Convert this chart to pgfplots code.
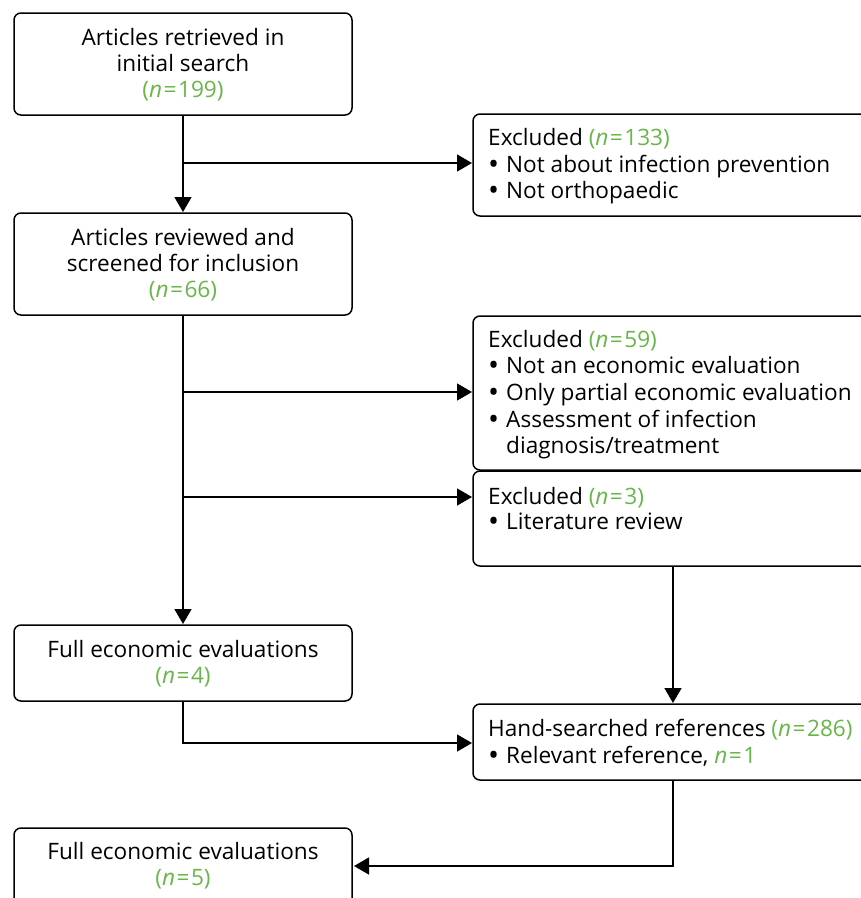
\documentclass[border=0pt]{standalone}
\usepackage{pgfplots}
\pgfplotsset{compat=1.18}
\usepackage{fontspec}
\setmainfont{Open Sans}
\usetikzlibrary{arrows.meta}
\definecolor{ngreen}{RGB}{104,182,72}
\newcommand{\nval}[1]{\textcolor{ngreen}{(\textit{n}\kern1.5pt=\kern1.5pt#1)}}
\newcommand{\nin}[1]{\textcolor{ngreen}{\textit{n}\kern1.5pt=\kern1.5pt#1}}
\newcommand{\bul}{\makebox[18pt][l]{\smash{\raisebox{-0.11em}{\scalebox{1.3}{\textbullet}}}}}

\begin{document}
\begin{tikzpicture}[
    box/.style={line width=1.5pt, rounded corners=7pt},
    link/.style={line width=1.5pt, black, -{Triangle[length=15pt,width=17pt]}},
    lbl/.style={font=\fontsize{22.6}{25}\selectfont, inner sep=0pt},
]
\begin{axis}[
    name=ax,
    width=861pt, height=898pt, scale only axis,
    xmin=0, xmax=861, ymin=0, ymax=898,
    y dir=reverse, hide axis, clip=false,
]
% connectors
\addplot[link] coordinates {(183,115)(183,212)};
\addplot[link] coordinates {(183,163)(472,163)};
\addplot[link] coordinates {(183,315)(183,624)};
\addplot[link] coordinates {(183,392)(472,392)};
\addplot[link] coordinates {(183,497)(472,497)};
\addplot[link] coordinates {(673,566)(673,703)};
\addplot[link, sharp plot] coordinates {(183,701)(183,743)(472,743)};
\addplot[link, sharp plot] coordinates {(673,780)(673,866)(354,866)};

% left column boxes
\draw[box] (axis cs:14,13) rectangle (axis cs:352,115);
\node[lbl, anchor=base] at (axis cs:183,45) {Articles retrieved in};
\node[lbl, anchor=base] at (axis cs:183,71) {initial search};
\node[lbl, anchor=base] at (axis cs:183,97) {\nval{199}};

\draw[box] (axis cs:14,213) rectangle (axis cs:352,315);
\node[lbl, anchor=base] at (axis cs:183,245) {Articles reviewed and};
\node[lbl, anchor=base] at (axis cs:183,271) {screened for inclusion};
\node[lbl, anchor=base] at (axis cs:183,297) {\nval{66}};

\draw[box] (axis cs:14,625) rectangle (axis cs:352,701);
\node[lbl, anchor=base] at (axis cs:183,657) {Full economic evaluations};
\node[lbl, anchor=base] at (axis cs:183,683) {\nval{4}};

\draw[box] (axis cs:14,828) rectangle (axis cs:352,930);
\node[lbl, anchor=base] at (axis cs:183,859) {Full economic evaluations};
\node[lbl, anchor=base] at (axis cs:183,885) {\nval{5}};

% right column boxes
\draw[box] (axis cs:473,114) rectangle (axis cs:880,216);
\node[lbl, anchor=base west] at (axis cs:488,145) {Excluded \nval{133}};
\node[lbl, anchor=base west] at (axis cs:488,172) {\bul Not about infection prevention};
\node[lbl, anchor=base west] at (axis cs:488,198) {\bul Not orthopaedic};

\draw[box] (axis cs:473,316) rectangle (axis cs:880,470);
\node[lbl, anchor=base west] at (axis cs:488,347) {Excluded \nval{59}};
\node[lbl, anchor=base west] at (axis cs:488,373) {\bul Not an economic evaluation};
\node[lbl, anchor=base west] at (axis cs:488,400) {\bul Only partial economic evaluation};
\node[lbl, anchor=base west] at (axis cs:488,427) {\bul Assessment of infection};
\node[lbl, anchor=base west] at (axis cs:488,453) {\hspace*{18pt}diagnosis/treatment};

\draw[box] (axis cs:473,471) rectangle (axis cs:880,566);
\node[lbl, anchor=base west] at (axis cs:488,504) {Excluded \nval{3}};
\node[lbl, anchor=base west] at (axis cs:488,529) {\bul Literature review};

\draw[box] (axis cs:473,704) rectangle (axis cs:880,780);
\node[lbl, anchor=base west] at (axis cs:488,736) {Hand-searched references \nval{286}};
\node[lbl, anchor=base west] at (axis cs:488,763) {\bul Relevant reference, \nin{1}};
\end{axis}
\pgfresetboundingbox
\useasboundingbox (ax.south west) rectangle (ax.north east);
\end{tikzpicture}
\end{document}
